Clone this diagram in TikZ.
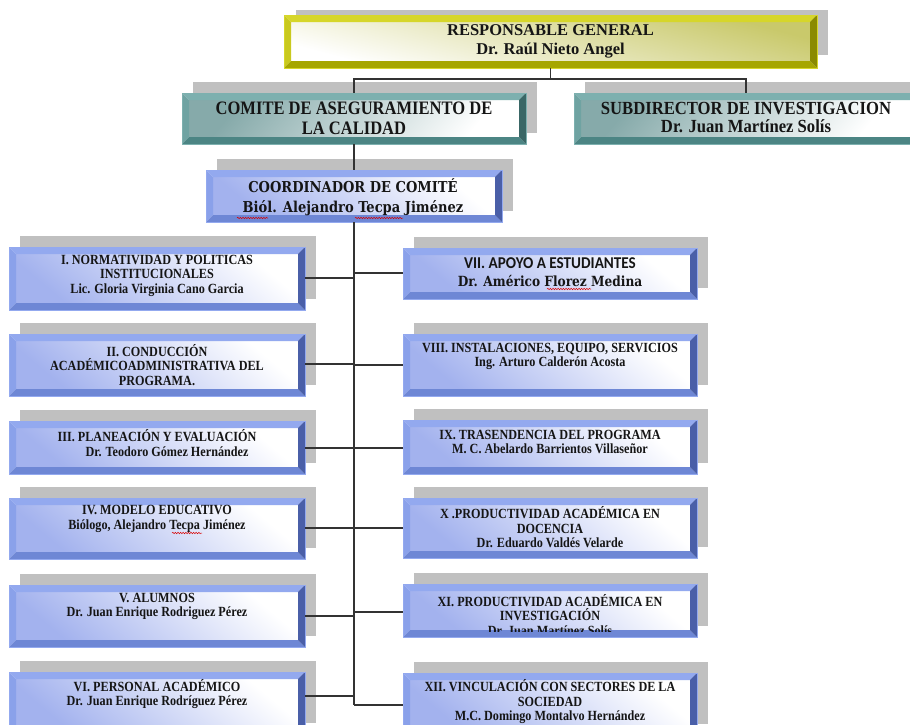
\documentclass[tikz,border=0pt]{standalone}
\usepackage{fontspec}
\setmainfont{Liberation Serif}
\newfontfamily\fSq{Liberation Serif}[FakeStretch=0.87]
\newfontfamily\fSub{Liberation Serif}[FakeStretch=0.9]
\newfontfamily\fCam{DejaVu Serif}[FakeStretch=0.87]
\newfontfamily\fCal{Carlito}[FakeStretch=0.92]
\usetikzlibrary{calc,shadows,decorations.pathmorphing}

\definecolor{bT}{HTML}{93A9EF}
\definecolor{bL}{HTML}{8AA1EA}
\definecolor{bB}{HTML}{6E87D5}
\definecolor{bR}{HTML}{4A5FA8}
\definecolor{bI}{HTML}{A3B2EE}
\definecolor{tT}{HTML}{7DB0AF}
\definecolor{tL}{HTML}{6FA3A2}
\definecolor{tB}{HTML}{4C8584}
\definecolor{tR}{HTML}{3A6766}
\definecolor{tI}{HTML}{86AAAA}
\definecolor{yT}{HTML}{D6D62A}
\definecolor{yL}{HTML}{C9C91E}
\definecolor{yB}{HTML}{A6A600}
\definecolor{yR}{HTML}{8A8A00}
\definecolor{yI}{HTML}{C9C96B}
\definecolor{shadowc}{HTML}{C0C0C0}
\definecolor{linec}{HTML}{333333}
\definecolor{txtc}{HTML}{151515}

\tikzset{
  bevelbox/.style n args={5}{
    inner sep=0pt, outer sep=0pt,
    draw=#1, line width=0.6pt,
    path picture={
      \path (path picture bounding box.north west) coordinate (pNW)
            (path picture bounding box.north east) coordinate (pNE)
            (path picture bounding box.south west) coordinate (pSW)
            (path picture bounding box.south east) coordinate (pSE);
      \path ($(pNW)+(7pt,-7pt)$) coordinate (iNW)
            ($(pNE)+(-7pt,-7pt)$) coordinate (iNE)
            ($(pSW)+(7pt,7pt)$) coordinate (iSW)
            ($(pSE)+(-7pt,7pt)$) coordinate (iSE);
      \shade[#5] (iNW) rectangle (iSE);
      \fill[#1] (pNW) -- (pNE) -- (iNE) -- (iNW) -- cycle;
      \fill[#2] (pNW) -- (iNW) -- (iSW) -- (pSW) -- cycle;
      \fill[#3] (pSW) -- (pSE) -- (iSE) -- (iSW) -- cycle;
      \fill[#4] (pNE) -- (pSE) -- (iSE) -- (iNE) -- cycle;
    }
  },
  shad/.style={drop shadow={shadow xshift=11pt, shadow yshift=11pt, fill=shadowc, opacity=1}},
  bluebox/.style={shad, bevelbox={bT}{bL}{bB}{bR}{bottom color=bI, top color=white, shading angle=-40}},
  tealbox/.style={shad, bevelbox={tT}{tL}{tB}{tR}{top color=tI, bottom color=white, shading angle=50}},
  yellowbox/.style={bevelbox={yT}{yL}{yB}{yR}{top color=yI, bottom color=white, shading angle=-15}},
  lbox/.style={bluebox, minimum width=296pt},
  rbox/.style={bluebox, minimum width=294pt},
  smalltxt/.style={inner sep=0pt, align=center, text=txtc, font=\fSq\bfseries\fontsize{14}{14.5}\selectfont},
  toptxt/.style={inner sep=0pt, align=center, text=txtc, font=\bfseries\fontsize{16.5}{19}\selectfont},
  comtxt/.style={inner sep=0pt, align=center, text=txtc, font=\fSq\bfseries\fontsize{19}{20}\selectfont},
  subtxt/.style={inner sep=0pt, align=center, text=txtc, font=\fSub\bfseries\fontsize{18.5}{18}\selectfont},
  camtxt/.style={inner sep=0pt, align=center, text=txtc, font=\fCam\bfseries\fontsize{15}{20}\selectfont},
  conn/.style={draw=linec, line width=1.1pt},
  squig/.style={draw=red!85!black, line width=0.5pt, decorate, decoration={snake, amplitude=0.7pt, segment length=2.6pt}}
}

\begin{document}
\begin{tikzpicture}[x=1pt, y=-1pt]
\useasboundingbox (0,0) rectangle (910,724);

% ---- top level
\fill[shadowc] (296,10) rectangle (828,55);
\node[yellowbox, minimum width=533pt, minimum height=53pt] (top) at (550.5,41.5) {};
\node[toptxt] (topt) at (550.5,41) {RESPONSABLE GENERAL\\Dr. Raúl Nieto Angel};

\node[tealbox, minimum width=344pt, minimum height=51pt] (comite) at (354,118.5) {};
\node[comtxt] (comitet) at (354,118.5) {COMITE DE ASEGURAMIENTO DE\\LA CALIDAD};

\node[tealbox, minimum width=344pt, minimum height=51pt] (subdir) at (746,118.5) {};
\node[subtxt] (subdirt) at (746,118) {SUBDIRECTOR DE INVESTIGACION\\Dr. Juan Martínez Solís};

\node[bluebox, minimum width=296pt, minimum height=52pt] (coord) at (354,196) {};
\node[camtxt] (coordt) at (353,197) {COORDINADOR DE COMITÉ\\Biól. Alejandro Tecpa Jiménez};

% ---- left column
\node[lbox, minimum height=63pt] (b1) at (157,278.5) {};
\node[smalltxt] (b1t) at (157,275.5) {I. NORMATIVIDAD Y POLITICAS\\INSTITUCIONALES\\Lic. Gloria Virginia Cano Garcia};

\node[lbox, minimum height=62pt] (b2) at (157,365) {};
\node[smalltxt] (b2t) at (157,365) {II. CONDUCCIÓN\\ACADÉMICOADMINISTRATIVA DEL\\PROGRAMA.};

\node[lbox, minimum height=53pt] (b3) at (157,447.5) {};
\node[smalltxt] (b3t) at (157,443) {III. PLANEACIÓN Y EVALUACIÓN\\\hspace*{20pt}Dr. Teodoro Gómez Hernández};

\node[lbox, minimum height=61pt] (b4) at (157,528.5) {};
\node[smalltxt] (b4t) at (157,519) {IV. MODELO EDUCATIVO\\Biólogo, Alejandro Tecpa Jiménez};

\node[lbox, minimum height=62pt] (b5) at (157,616) {};
\node[smalltxt] (b5t) at (157,606.5) {V. ALUMNOS\\Dr. Juan Enrique Rodriguez Pérez};

\node[lbox, minimum height=62pt] (b6) at (157,703) {};
\node[smalltxt] (b6t) at (157,694) {VI. PERSONAL ACADÉMICO\\Dr. Juan Enrique Rodríguez Pérez};

% ---- right column
\node[rbox, minimum height=51pt] (b7) at (550,273.5) {};
\node[smalltxt] (b7t) at (550,272) {{\fCal\bfseries\fontsize{16.5}{15}\selectfont VII. APOYO A ESTUDIANTES}\\[3pt]{\fCam\bfseries\fontsize{14}{15}\selectfont Dr. Américo Florez Medina}};

\node[rbox, minimum height=62pt] (b8) at (550,365) {};
\node[smalltxt] (b8t) at (550,356.5) {VIII. INSTALACIONES, EQUIPO, SERVICIOS\\Ing. Arturo Calderón Acosta};

\node[rbox, minimum height=54pt] (b9) at (550,447) {};
\node[smalltxt] (b9t) at (550,442) {IX. TRASENDENCIA DEL PROGRAMA\\M. C. Abelardo Barrientos Villaseñor};

\node[rbox, minimum height=60pt] (b10) at (550,528) {};
\node[smalltxt] (b10t) at (550,527.5) {X .PRODUCTIVIDAD ACADÉMICA EN\\DOCENCIA\\Dr. Eduardo Valdés Velarde};

\node[rbox, minimum height=53pt] (b11) at (550,610.5) {};
\begin{scope}
  \clip ($(b11.north west)+(7pt,-7pt)$) rectangle ($(b11.south east)+(-7pt,6pt)$);
  \node[smalltxt] (b11t) at (550,615) {XI. PRODUCTIVIDAD ACADÉMICA EN\\INVESTIGACIÓN\\Dr. Juan Martínez Solís};
\end{scope}

\node[rbox, minimum height=62pt] (b12) at (550,704) {};
\node[smalltxt] (b12t) at (550,702) {XII. VINCULACIÓN CON SECTORES DE LA\\SOCIEDAD\\M.C. Domingo Montalvo Hernández};

% ---- connectors
\coordinate (hj) at (0,79);
\draw[conn] (top.south) -- (top.south |- hj) -| (comite.north);
\draw[conn] (top.south |- hj) -| (subdir.north);
\draw[conn] (comite.south) -- (coord.north);
\coordinate (trunkend) at (354,705);
\draw[conn] (coord.south) -- (trunkend);

\coordinate (c1) at (354,278);
\coordinate (c2) at (354,364);
\coordinate (c3) at (354,448);
\coordinate (c4) at (354,528);
\coordinate (c5) at (354,616);
\coordinate (c6) at (354,696);
\coordinate (c7) at (354,273);
\coordinate (c8) at (354,365);
\coordinate (c9) at (354,448);
\coordinate (c10) at (354,528);
\coordinate (c11) at (354,612);
\coordinate (c12) at (354,705);
\foreach \i in {1,...,6} { \draw[conn] (c\i) -- (c\i -| b\i.east); }
\foreach \i in {7,...,12} { \draw[conn] (c\i) -- (c\i -| b\i.west); }

% ---- spell-check squiggles
\draw[squig] (237,218) -- (268,218);
\draw[squig] (355,218) -- (403,218);
\draw[squig] (547,289) -- (591,289);
\draw[squig] (172,533) -- (202,533);
\end{tikzpicture}
\end{document}
